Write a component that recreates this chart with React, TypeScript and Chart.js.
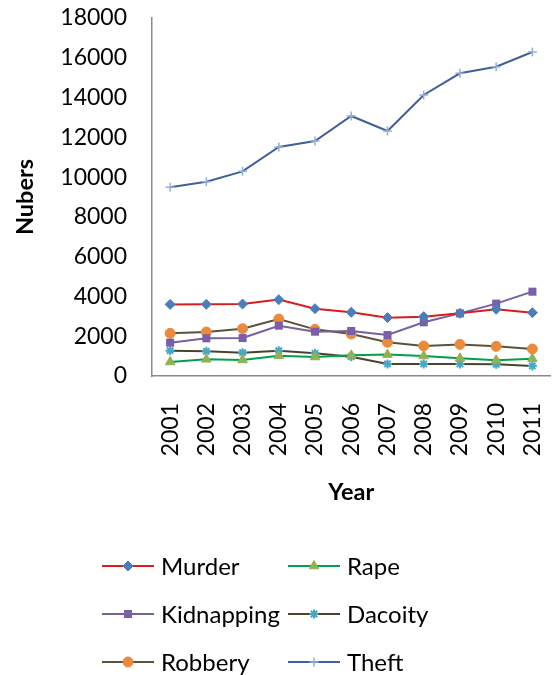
import React, { useEffect, useRef } from "react";
import { Chart, registerables } from "chart.js";
import { drawPoint } from "chart.js/helpers";

Chart.register(...registerables);

const years = ["2001", "2002", "2003", "2004", "2005", "2006", "2007", "2008", "2009", "2010", "2011"];

const murder = [3600, 3605, 3620, 3840, 3385, 3200, 2935, 2985, 3150, 3355, 3185];
const rape = [705, 840, 805, 1020, 955, 1040, 1075, 1005, 890, 790, 870];
const kidnapping = [1675, 1895, 1910, 2530, 2230, 2265, 2060, 2700, 3150, 3640, 4240];
const dacoity = [1275, 1240, 1175, 1275, 1140, 970, 605, 605, 605, 585, 505];
const robbery = [2145, 2210, 2380, 2865, 2345, 2110, 1695, 1510, 1590, 1490, 1360];
const theft = [9490, 9770, 10290, 11515, 11815, 13075, 12320, 14130, 15220, 15550, 16290];

const yMin = 0;
const yMax = 18000;
const yStep = 2000;

const FONT = "Lato";
const W = 557;
const H = 675;

// Square "x" marker used for the Kidnapping series
function makeXMarker(): HTMLCanvasElement {
  const c = document.createElement("canvas");
  c.width = 10;
  c.height = 10;
  const g = c.getContext("2d")!;
  g.fillStyle = "#6466ae";
  g.fillRect(1, 1, 8, 8);
  g.strokeStyle = "#8a5aa6";
  g.lineWidth = 2;
  g.beginPath();
  g.moveTo(1.5, 1.5);
  g.lineTo(8.5, 8.5);
  g.moveTo(8.5, 1.5);
  g.lineTo(1.5, 8.5);
  g.stroke();
  return c;
}

// Two-column legend under the plot: line sample with marker, then the label
const gridLegend = {
  id: "gridLegend",
  afterDraw(chart: any) {
    const ctx = chart.ctx;
    const colX = [102, 288];
    const rowY = [566, 614, 662];
    const sample = 52;
    ctx.save();
    chart.data.datasets.forEach((ds: any, i: number) => {
      const x0 = colX[i % 2];
      const y = rowY[Math.floor(i / 2)];
      ctx.strokeStyle = ds.borderColor;
      ctx.lineWidth = ds.borderWidth;
      ctx.beginPath();
      ctx.moveTo(x0, y);
      ctx.lineTo(x0 + sample, y);
      ctx.stroke();
      ctx.fillStyle = ds.pointBackgroundColor;
      ctx.strokeStyle = ds.pointBorderColor;
      ctx.lineWidth = ds.pointBorderWidth;
      drawPoint(ctx, { pointStyle: ds.pointStyle, radius: ds.pointRadius, borderWidth: ds.pointBorderWidth, rotation: 0 }, x0 + sample / 2, y);
      ctx.fillStyle = "#000000";
      ctx.font = `24px ${FONT}`;
      ctx.textAlign = "left";
      ctx.textBaseline = "alphabetic";
      ctx.fillText(ds.label, x0 + 59, y + 8.6);
    });
    ctx.restore();
  },
};

export default function App() {
  const ref = useRef<HTMLCanvasElement | null>(null);

  useEffect(() => {
    if (!ref.current) return;
    const xMarker = makeXMarker();
    const series = (label: string, data: number[], line: string, style: any, fill: string, border: string, radius: number, bw: number) => ({
      label,
      data,
      borderColor: line,
      borderWidth: 2,
      pointStyle: style,
      pointBackgroundColor: fill,
      pointBorderColor: border,
      pointBorderWidth: bw,
      pointRadius: radius,
      pointHoverRadius: radius,
      tension: 0,
      fill: false,
    });

    const chart = new Chart(ref.current, {
      type: "line",
      data: {
        labels: years,
        datasets: [
          series("Murder", murder, "#d91c1c", "rectRot", "#4a7ebb", "#4a7ebb", 5, 1),
          series("Rape", rape, "#00a04c", "triangle", "#92b153", "#92b153", 5.5, 1),
          series("Kidnapping", kidnapping, "#7560a0", xMarker, "#6466ae", "#6466ae", 5, 1),
          series("Dacoity", dacoity, "#4b4329", "star", "#46a8c4", "#46a8c4", 4.5, 2),
          series("Robbery", robbery, "#57533c", "circle", "#ec8a3c", "#ec8a3c", 5, 1),
          series("Theft", theft, "#40609a", "cross", "#93b0d8", "#93b0d8", 4.5, 1.5),
        ],
      },
      options: {
        responsive: false,
        animation: false,
        devicePixelRatio: 1,
        layout: { padding: { top: 18, left: 0, right: 0, bottom: 168 } },
        plugins: { legend: { display: false }, tooltip: { enabled: false } },
        scales: {
          x: {
            type: "category",
            offset: true,
            grid: { display: false, drawTicks: false },
            border: { display: true, color: "#8a8a8a", width: 1.5 },
            ticks: {
              color: "#000000",
              font: { family: FONT, size: 23 },
              minRotation: 90,
              maxRotation: 90,
              autoSkip: false,
              padding: 27,
            },
            title: {
              display: true,
              text: "Year",
              color: "#000000",
              font: { family: FONT, size: 23.5, weight: "bold" },
              padding: { top: 0, bottom: 0 },
            },
            afterFit: (scale: any) => {
              scale.height = 131;
              scale.paddingLeft = 0;
              scale.paddingRight = 0;
            },
          },
          y: {
            min: yMin,
            max: yMax,
            grid: { display: false, drawTicks: false },
            border: { display: true, color: "#8a8a8a", width: 1.5 },
            ticks: {
              stepSize: yStep,
              color: "#000000",
              font: { family: FONT, size: 23 },
              padding: 25,
              callback: (v: any) => String(v),
            },
            title: {
              display: true,
              text: "Nubers",
              color: "#000000",
              font: { family: FONT, size: 23.5, weight: "bold" },
              padding: { top: 11, bottom: 0 },
            },
            afterFit: (scale: any) => {
              scale.width = 152;
              scale.paddingTop = 0;
              scale.paddingBottom = 0;
            },
          },
        },
      },
      plugins: [gridLegend],
    });
    return () => chart.destroy();
  }, []);

  return (
    <div style={{ position: "fixed", left: 0, top: 0, width: W, height: H, overflow: "hidden", background: "#ffffff" }}>
      <canvas ref={ref} width={W} height={H} style={{ width: W, height: H, display: "block" }} />
    </div>
  );
}
